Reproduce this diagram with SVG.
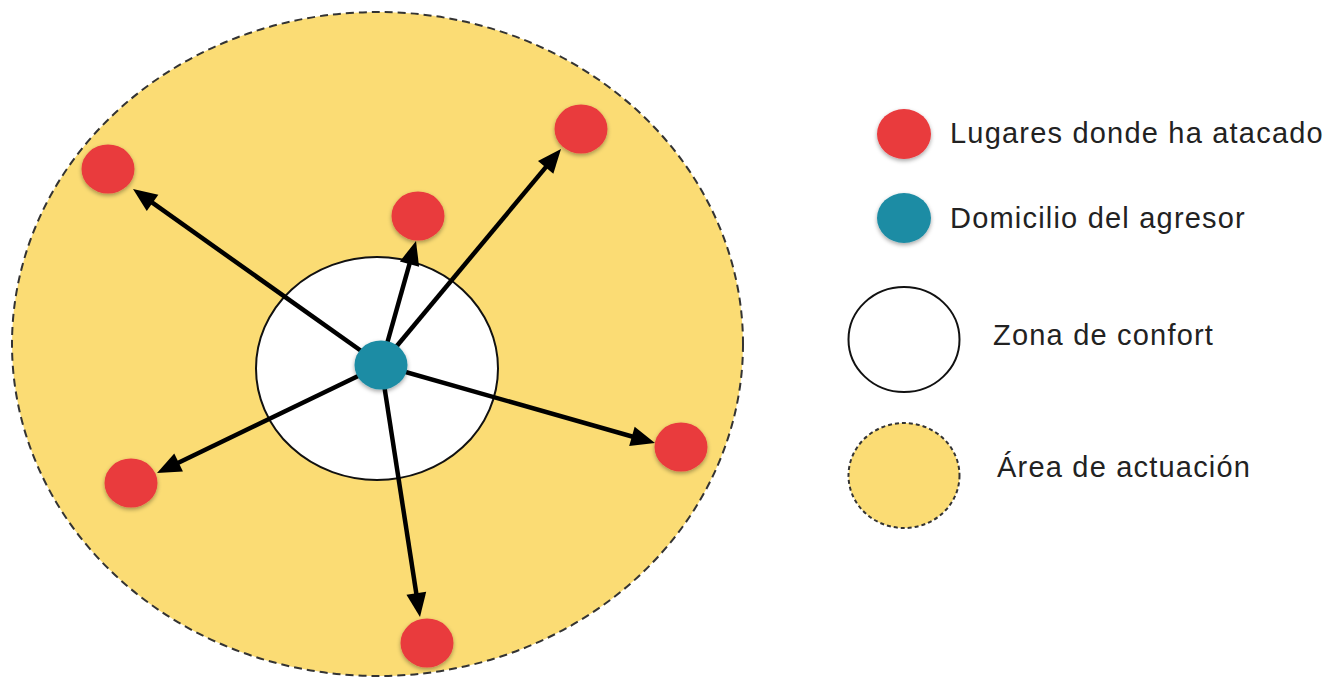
<svg xmlns="http://www.w3.org/2000/svg" width="1330" height="678" viewBox="0 0 1330 678">
<defs>
<style>
.area{fill:#FBDC74;stroke:#333;stroke-width:2;stroke-dasharray:8 5}
.zone{fill:#fff;stroke:#111;stroke-width:2}
.red{fill:#E93A3E;filter:url(#sh)}
.teal{fill:#1F8CA4;filter:url(#sh)}
.arr{stroke:#000;stroke-width:4.5;fill:none}
.head{fill:#000}
.lbl{font-family:"Liberation Sans",Arial,sans-serif;font-size:29px;letter-spacing:1.2px;fill:#222}
</style>
<filter id="sh" x="-30%" y="-30%" width="160%" height="160%">
<feDropShadow dx="0" dy="2" stdDeviation="2" flood-color="#000" flood-opacity="0.35"/>
</filter>
</defs>
<g id="area-actuacion"><ellipse class="area" cx="377.5" cy="344" rx="365.5" ry="332"/></g>
<g id="zona-confort"><ellipse class="zone" cx="377" cy="368.5" rx="121" ry="111.5"/></g>
<g id="connectors">
<line class="arr" x1="381" y1="365" x2="150.9" y2="201.7"/>
<polygon class="head" points="133,189 158.36,194.74 146.78,211.05"/>
<line class="arr" x1="381" y1="365" x2="410.0" y2="262.2"/>
<polygon class="head" points="416,241 419.10,266.82 399.86,261.38"/>
<line class="arr" x1="381" y1="365" x2="546.9" y2="165.9"/>
<polygon class="head" points="561,149 553.32,173.84 537.96,161.04"/>
<line class="arr" x1="381" y1="365" x2="633.8" y2="437.0"/>
<polygon class="head" points="655,443 629.18,446.05 634.66,426.81"/>
<line class="arr" x1="381" y1="365" x2="176.8" y2="463.5"/>
<polygon class="head" points="157,473 174.28,453.57 182.96,471.59"/>
<line class="arr" x1="381" y1="365" x2="416.6" y2="595.3"/>
<polygon class="head" points="420,617 406.45,594.81 426.21,591.75"/>
</g>
<g id="domicilio"><ellipse class="teal" cx="381" cy="365" rx="26.5" ry="24.5"/></g>
<g id="lugar1"><ellipse class="red" cx="108" cy="169" rx="26.5" ry="24.5"/></g>
<g id="lugar2"><ellipse class="red" cx="418" cy="216" rx="26.5" ry="24.5"/></g>
<g id="lugar3"><ellipse class="red" cx="581" cy="129" rx="26.5" ry="24.5"/></g>
<g id="lugar4"><ellipse class="red" cx="681" cy="447" rx="26.5" ry="24.5"/></g>
<g id="lugar5"><ellipse class="red" cx="131" cy="483" rx="26.5" ry="24.5"/></g>
<g id="lugar6"><ellipse class="red" cx="427" cy="643" rx="26.5" ry="24.5"/></g>
<g id="legend-lugares">
<ellipse class="red" cx="904" cy="134" rx="27" ry="25"/>
<text class="lbl" x="950" y="143">Lugares donde ha atacado</text>
</g>
<g id="legend-domicilio">
<ellipse class="teal" cx="904" cy="218" rx="27" ry="25"/>
<text class="lbl" x="950" y="228">Domicilio del agresor</text>
</g>
<g id="legend-zona">
<ellipse class="zone" cx="904" cy="339.5" rx="55.5" ry="52.5"/>
<text class="lbl" x="993" y="345">Zona de confort</text>
</g>
<g id="legend-area">
<ellipse class="area" cx="904" cy="475.5" rx="55.5" ry="52.5" style="stroke-dasharray:4 3"/>
<text class="lbl" x="997" y="477">Área de actuación</text>
</g>
</svg>
